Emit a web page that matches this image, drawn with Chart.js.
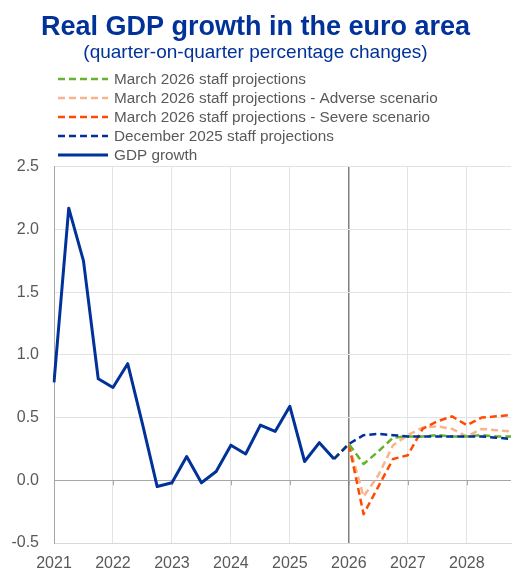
<!DOCTYPE html>
<html>
<head>
<meta charset="utf-8">
<script src="https://cdn.jsdelivr.net/npm/chart.js@4.4.1/dist/chart.umd.min.js"></script>
<style>
  html, body { margin: 0; padding: 0; background: #fff; }
  #wrap { width: 512px; height: 571px; }
</style>
</head>
<body>
<div id="wrap"><canvas id="gdpChart"></canvas></div>
<script>
var quarters = [
  '2021 Q1', '2021 Q2', '2021 Q3', '2021 Q4',
  '2022 Q1', '2022 Q2', '2022 Q3', '2022 Q4',
  '2023 Q1', '2023 Q2', '2023 Q3', '2023 Q4',
  '2024 Q1', '2024 Q2', '2024 Q3', '2024 Q4',
  '2025 Q1', '2025 Q2', '2025 Q3', '2025 Q4',
  '2026 Q1', '2026 Q2', '2026 Q3', '2026 Q4',
  '2027 Q1', '2027 Q2', '2027 Q3', '2027 Q4',
  '2028 Q1', '2028 Q2', '2028 Q3', '2028 Q4'
];

// actual GDP growth, 2021 Q1 - 2025 Q4
var gdpGrowth = [0.78, 2.17, 1.75, 0.81, 0.74, 0.93, 0.45, -0.05, -0.02, 0.19, -0.02, 0.07,
                 0.28, 0.21, 0.44, 0.39, 0.59, 0.15, 0.30, 0.17];

// projections, 2025 Q4 - 2028 Q4
var march2026 = [0.17, 0.29, 0.13, 0.23, 0.34, 0.35, 0.35, 0.36, 0.35, 0.35, 0.36, 0.35, 0.35];
var march2026Adverse = [0.17, 0.29, -0.13, 0.04, 0.28, 0.36, 0.42, 0.43, 0.41, 0.35, 0.41, 0.40, 0.39];
var march2026Severe = [0.17, 0.29, -0.27, -0.05, 0.17, 0.20, 0.41, 0.47, 0.51, 0.44, 0.50, 0.51, 0.52];
var december2025 = [0.17, 0.29, 0.36, 0.37, 0.36, 0.35, 0.35, 0.35, 0.35, 0.35, 0.35, 0.34, 0.33];

var FONT = '"Liberation Sans", Arial, sans-serif';
var ECB_BLUE = '#003299';

function projection(values) {
  var out = [];
  for (var i = 0; i < quarters.length - values.length; i++) out.push(null);
  return out.concat(values);
}

// legend drawn one item per row, like the original
var stackedLegend = {
  id: 'stackedLegend',
  afterDraw: function (chart) {
    var ctx = chart.ctx;
    ctx.save();
    ctx.font = '15.3px ' + FONT;
    ctx.textBaseline = 'middle';
    chart.data.datasets.forEach(function (ds, row) {
      var y = 79 + row * 19;
      ctx.beginPath();
      ctx.setLineDash(ds.borderDash || []);
      ctx.strokeStyle = ds.borderColor;
      ctx.lineWidth = ds.borderWidth;
      ctx.moveTo(58, y);
      ctx.lineTo(108, y);
      ctx.stroke();
      ctx.setLineDash([]);
      ctx.fillStyle = '#595959';
      ctx.fillText(ds.label, 114, y + 1);
    });
    ctx.restore();
  }
};

// small tick marks on the zero line at each year
var zeroTicks = {
  id: 'zeroTicks',
  beforeDatasetsDraw: function (chart) {
    var x = chart.scales.x, y = chart.scales.y, ctx = chart.ctx;
    var y0 = y.getPixelForValue(0);
    ctx.save();
    ctx.strokeStyle = '#a6a6a6';
    ctx.lineWidth = 1;
    for (var i = 4; i < quarters.length; i += 4) {
      var px = Math.round(x.getPixelForValue(i)) + 0.5;
      ctx.beginPath();
      ctx.moveTo(px, y0);
      ctx.lineTo(px, y0 + 5);
      ctx.stroke();
    }
    ctx.restore();
  }
};

var ctx = document.getElementById('gdpChart');
var chart = new Chart(ctx, {
  type: 'line',
  data: {
    labels: quarters,
    datasets: [
      {
        label: 'March 2026 staff projections',
        data: projection(march2026),
        borderColor: '#65b32e',
        borderWidth: 2.5,
        borderDash: [7, 4],
        order: 2
      },
      {
        label: 'March 2026 staff projections - Adverse scenario',
        data: projection(march2026Adverse),
        borderColor: '#f9b48c',
        borderWidth: 2.5,
        borderDash: [7, 4],
        order: 4
      },
      {
        label: 'March 2026 staff projections - Severe scenario',
        data: projection(march2026Severe),
        borderColor: '#ff4b00',
        borderWidth: 2.5,
        borderDash: [7, 4],
        order: 3
      },
      {
        label: 'December 2025 staff projections',
        data: projection(december2025),
        borderColor: ECB_BLUE,
        borderWidth: 2.5,
        borderDash: [7, 4],
        order: 1
      },
      {
        label: 'GDP growth',
        data: gdpGrowth,
        borderColor: ECB_BLUE,
        borderWidth: 3,
        order: 0
      }
    ]
  },
  options: {
    responsive: true,
    maintainAspectRatio: false,
    animation: false,
    layout: { padding: { left: 0, right: 1, top: 0, bottom: 0 } },
    elements: {
      point: { radius: 0, hoverRadius: 0 },
      line: { tension: 0, fill: false, borderJoinStyle: 'round' }
    },
    plugins: {
      legend: { display: false },
      tooltip: { enabled: false },
      title: {
        display: true,
        text: 'Real GDP growth in the euro area',
        color: ECB_BLUE,
        font: { family: FONT, size: 27, weight: 'bold', lineHeight: 1.0 },
        padding: { top: 14, bottom: 0 }
      },
      subtitle: {
        display: true,
        text: '(quarter-on-quarter percentage changes)',
        color: ECB_BLUE,
        font: { family: FONT, size: 19 },
        padding: { top: 0, bottom: 103 }
      }
    },
    scales: {
      x: {
        offset: false,
        afterFit: function (s) { s.height = 28; s.paddingRight = 0; s.paddingLeft = 0; },
        border: { color: '#d9d9d9' },
        grid: {
          drawTicks: false,
          color: function (c) {
            if (c.index % 4 !== 0) return 'rgba(0,0,0,0)';
            return c.index === 20 ? '#7f7f7f' : '#e3e3e3';
          },
          lineWidth: function (c) { return c.index === 20 ? 1.5 : 1; }
        },
        ticks: {
          autoSkip: false,
          maxRotation: 0,
          padding: 11,
          color: '#595959',
          font: { family: FONT, size: 16 },
          callback: function (v, i) {
            return i % 4 === 0 ? quarters[i].slice(0, 4) : '';
          }
        }
      },
      y: {
        min: -0.5,
        max: 2.5,
        afterFit: function (s) { s.width = 54; },
        border: { color: '#a6a6a6' },
        grid: {
          drawTicks: false,
          color: function (c) { return c.tick.value === 0 ? '#a6a6a6' : '#e3e3e3'; }
        },
        ticks: {
          stepSize: 0.5,
          padding: 15,
          color: '#595959',
          font: { family: FONT, size: 16 },
          callback: function (v) { return v.toFixed(1); }
        }
      }
    }
  },
  plugins: [stackedLegend, zeroTicks]
});
</script>
</body>
</html>
